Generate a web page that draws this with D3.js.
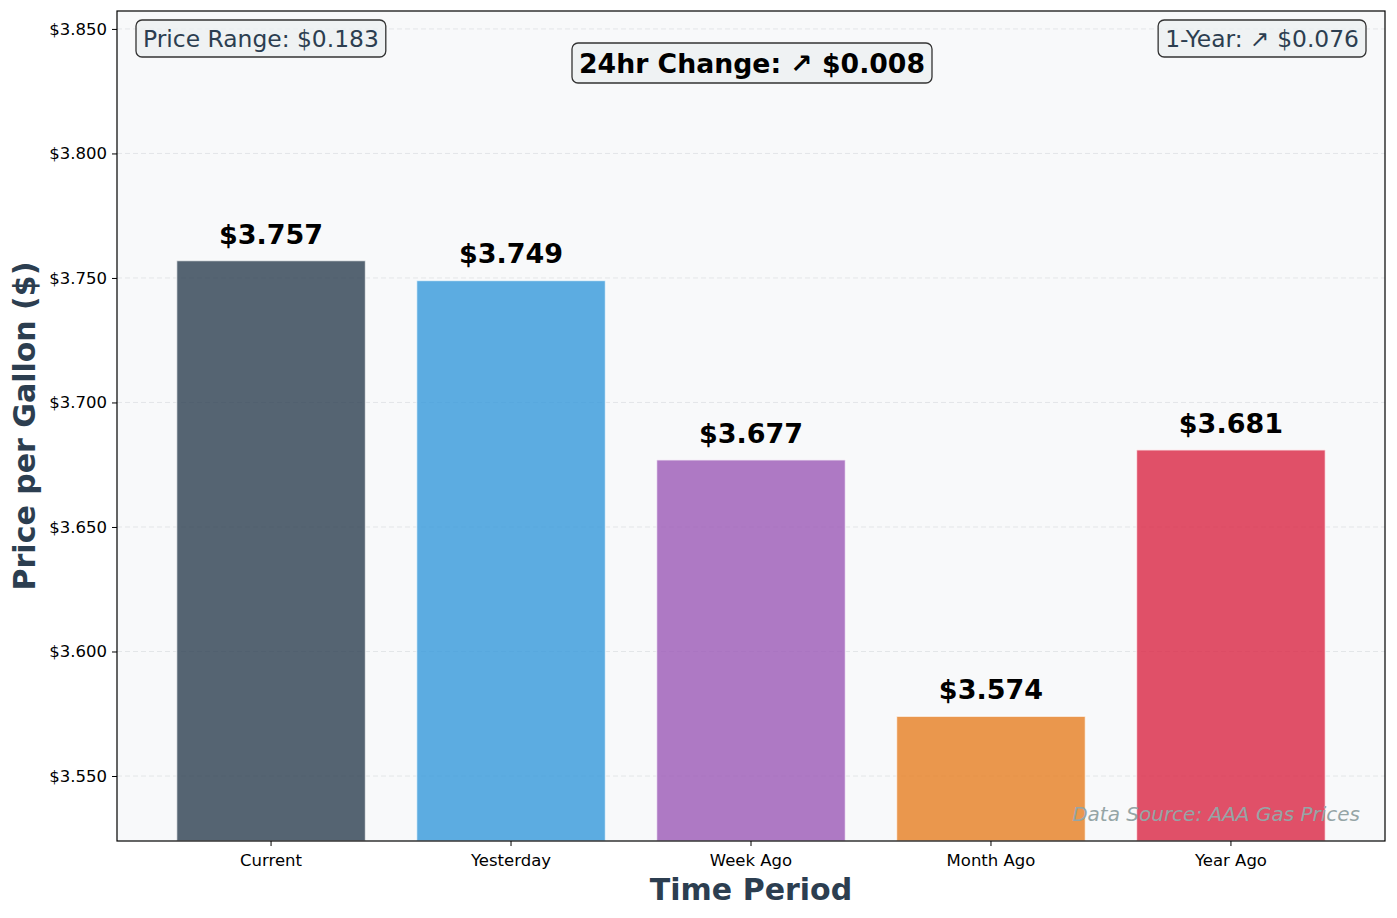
<!DOCTYPE html>
<html>
<head>
<meta charset="utf-8">
<script src="https://cdn.jsdelivr.net/npm/d3@7"></script>
<style>
  body { margin: 0; background: #fff; }
  svg { display: block; font-family: "DejaVu Sans", sans-serif; }
</style>
</head>
<body>
<div id="chart"></div>
<script>
// gas price data
var periods = ['Current', 'Yesterday', 'Week Ago', 'Month Ago', 'Year Ago'];
var prices = [3.757, 3.749, 3.677, 3.574, 3.681];
var barColors = ['#2c3e50', '#3498db', '#9b59b6', '#e67e22', '#d92643'];
var yTicks = [3.55, 3.60, 3.65, 3.70, 3.75, 3.80, 3.85];

var width = 1397, height = 918;
var margin = { top: 11, right: 12, bottom: 77, left: 117 };

var svg = d3.select('#chart').append('svg')
  .attr('width', width)
  .attr('height', height);

var x = d3.scaleBand()
  .domain(periods)
  .range([margin.left, width - margin.right])
  .paddingInner(0.2)
  .paddingOuter(0.242);

var y = d3.scaleLinear()
  .domain([3.5239, 3.8572])
  .range([height - margin.bottom, margin.top]);

// plot background
svg.append('rect')
  .attr('x', margin.left).attr('y', margin.top)
  .attr('width', width - margin.left - margin.right)
  .attr('height', height - margin.top - margin.bottom)
  .attr('fill', '#f8f9fa');

// horizontal grid
svg.append('g')
  .selectAll('line')
  .data(yTicks)
  .join('line')
  .attr('x1', margin.left).attr('x2', width - margin.right)
  .attr('y1', d => y(d)).attr('y2', d => y(d))
  .attr('stroke', '#d5d8dc')
  .attr('stroke-opacity', 0.6)
  .attr('stroke-dasharray', '5,3');

// bars
svg.append('g')
  .selectAll('rect')
  .data(prices)
  .join('rect')
  .attr('x', (d, i) => x(periods[i]) + 1.5)
  .attr('y', d => y(d))
  .attr('width', x.bandwidth() - 3)
  .attr('height', d => y.range()[0] - y(d))
  .attr('fill', (d, i) => barColors[i])
  .attr('fill-opacity', 0.8)
  .attr('stroke', '#ffffff')
  .attr('stroke-opacity', 0.7)
  .attr('stroke-width', 1.5);

// value labels
svg.append('g')
  .selectAll('text')
  .data(prices)
  .join('text')
  .attr('x', (d, i) => x(periods[i]) + x.bandwidth() / 2)
  .attr('y', d => y(d) - 17)
  .attr('text-anchor', 'middle')
  .attr('font-size', '27px')
  .attr('font-weight', 'bold')
  .attr('fill', '#000')
  .text(d => '$' + d.toFixed(3));

// axes
var yAxis = svg.append('g')
  .attr('transform', `translate(${margin.left},0)`)
  .call(d3.axisLeft(y).tickValues(yTicks).tickFormat(d => '$' + d.toFixed(3)).tickSize(5).tickPadding(5));
var xAxis = svg.append('g')
  .attr('transform', `translate(0,${height - margin.bottom})`)
  .call(d3.axisBottom(x).tickSize(5).tickPadding(8));
[xAxis, yAxis].forEach(function (g) {
  g.select('.domain').remove();
  g.selectAll('text').attr('font-size', '16.5px').attr('fill', '#000').attr('font-family', 'DejaVu Sans');
  g.selectAll('line').attr('stroke', '#000');
});

// frame
svg.append('rect')
  .attr('x', margin.left).attr('y', margin.top)
  .attr('width', width - margin.left - margin.right)
  .attr('height', height - margin.top - margin.bottom)
  .attr('fill', 'none')
  .attr('stroke', '#000')
  .attr('stroke-width', 1.2);

// axis titles
svg.append('text')
  .attr('x', (margin.left + width - margin.right) / 2)
  .attr('y', 900)
  .attr('text-anchor', 'middle')
  .attr('font-size', '30px')
  .attr('font-weight', 'bold')
  .attr('fill', '#2c3e50')
  .text('Time Period');

svg.append('text')
  .attr('transform', 'translate(35,' + ((margin.top + height - margin.bottom) / 2) + ') rotate(-90)')
  .attr('text-anchor', 'middle')
  .attr('font-size', '30px')
  .attr('font-weight', 'bold')
  .attr('fill', '#2c3e50')
  .text('Price per Gallon ($)');

// annotation boxes
function box(txt, xPos, yBase, anchor, size, bold, color) {
  var g = svg.append('g');
  var t = g.append('text')
    .attr('x', xPos).attr('y', yBase)
    .attr('text-anchor', anchor)
    .attr('font-size', size)
    .attr('font-weight', bold ? 'bold' : 'normal')
    .attr('fill', color)
    .text(txt);
  var bb = t.node().getBBox();
  g.insert('rect', 'text')
    .attr('x', bb.x - 7).attr('y', bb.y - 5)
    .attr('width', bb.width + 14).attr('height', bb.height + 9)
    .attr('rx', 6)
    .attr('fill', '#ecf0f1')
    .attr('fill-opacity', 0.8)
    .attr('stroke', '#333')
    .attr('stroke-width', 1.3);
}

var range = d3.max(prices) - d3.min(prices);
var dayChange = prices[0] - prices[1];
var yearChange = prices[0] - prices[4];
box('Price Range: $' + range.toFixed(3), 143, 47, 'start', '23.4px', false, '#2c3e50');
box('1-Year: ↗ $' + yearChange.toFixed(3), 1359, 47, 'end', '23.4px', false, '#2c3e50');
box('24hr Change: ↗ $' + dayChange.toFixed(3), 752, 73, 'middle', '26.7px', true, '#000');

// source note
svg.append('text')
  .attr('x', 1360).attr('y', 821)
  .attr('text-anchor', 'end')
  .attr('font-size', '20px')
  .attr('font-style', 'italic')
  .attr('fill', '#95a5a6')
  .text('Data Source: AAA Gas Prices');
</script>
</body>
</html>
